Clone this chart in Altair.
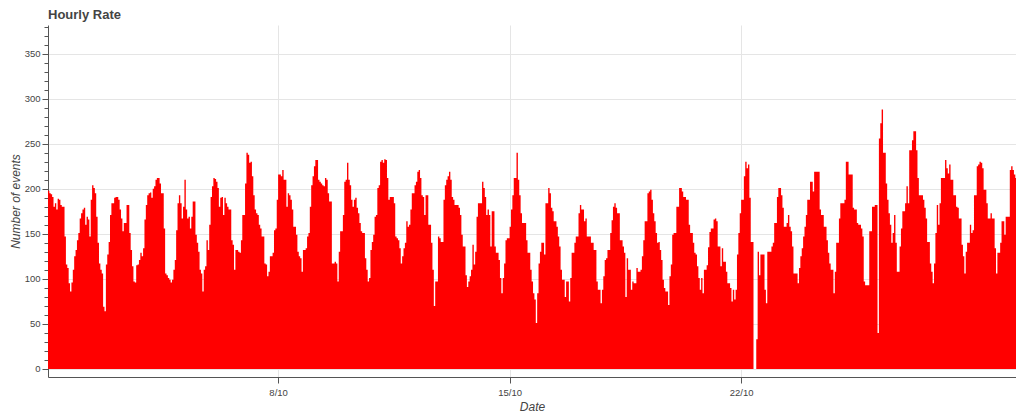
import altair as alt
import pandas as pd
from datetime import datetime, timezone

# Hourly event counts, one list per day (October)
oct01 = [198,195,194,191,180,184,177,189,188,182,180,180,147,116,112,95,86,96,110,125,132,143,151]  # from 01:00
oct02 = [167,173,177,179,160,169,166,147,188,204,201,195,169,140,117,110,106,69,64,116,127,141,171,184]
oct03 = [184,190,191,191,188,177,167,153,162,162,182,182,151,132,114,97,96,115,116,121,129,125,134,166]
oct04 = [182,193,195,196,190,200,203,210,212,212,206,195,195,156,106,104,101,99,96,99,110,121,154,184]
oct05 = [193,184,167,180,210,177,167,169,156,169,186,186,149,140,130,110,106,86,110,114,143,132,160,191]
oct06 = [203,212,211,208,201,180,190,191,171,190,184,180,177,177,143,138,110,132,132,130,129,143,171,171]
oct07 = [206,240,238,229,230,214,193,177,173,171,160,156,147,147,117,116,103,108,125,125,129,154,156,188]
oct08 = [216,216,214,221,210,210,180,195,193,188,177,158,158,149,130,125,123,108,132,132,134,147,151,180]
oct09 = [204,214,225,232,232,210,208,206,204,203,212,210,195,186,186,117,117,119,117,97,130,153,153,171]
oct10 = [208,210,229,210,204,188,180,188,190,179,173,162,153,151,151,123,110,97,101,132,141,149,169,171]
oct11 = [201,204,230,232,229,233,232,212,188,191,191,191,184,147,145,143,134,117,125,134,140,164,158,160]
oct12 = [177,195,195,204,208,219,221,212,193,191,171,193,193,160,160,140,110,70,97,97,147,145,141,141]
oct13 = [188,204,210,214,219,210,191,188,182,182,182,179,171,149,136,136,104,91,97,103,110,138,116,130]
oct14 = [169,184,184,184,208,201,191,171,177,171,136,175,175,136,129,129,121,101,84,101,117,143,145,145]
oct15 = [158,177,193,212,212,240,210,193,173,162,162,162,143,129,129,110,97,84,77,51,84,117,130,140]
oct16 = [140,127,184,184,201,195,179,175,164,164,158,147,136,110,99,99,80,97,97,75,101,129,129,140]
oct17 = [147,147,173,182,177,177,164,167,147,147,147,140,140,132,132,97,88,88,73,88,103,121,123,132]
oct18 = [132,151,165,180,184,179,173,173,143,143,136,129,80,123,110,110,88,97,95,95,112,108,108,110]
oct19 = [125,143,164,164,195,197,199,188,173,164,151,140,141,132,121,99,90,86,86,71,103,116,149,151]
oct20 = [151,180,180,201,201,197,191,191,188,188,160,151,151,140,129,127,114,101,88,101,84,110,110,115]
oct21 = [135,152,156,156,166,167,164,136,136,114,134,119,119,108,95,95,90,75,88,77,88,127,151,173]
oct22 = [188,188,214,230,223,227,190,141,141,0,0,33,130,104,127,127,127,88,73,130,130,130,136,140]
oct23 = [162,162,191,201,201,193,179,158,158,162,171,158,153,136,106,106,106,95,112,125,134,147,158,171]
oct24 = [188,188,208,208,197,219,219,219,219,177,171,171,158,158,143,129,117,110,110,84,108,140,140,167]
oct25 = [184,184,184,188,230,230,216,216,216,179,177,177,162,160,160,156,147,97,93,93,93,153,153,180]
oct26 = [180,182,182,40,256,273,288,240,240,206,188,173,160,140,151,171,140,108,108,136,156,175,175,184]
oct27 = [203,184,243,243,254,264,264,243,212,193,193,193,188,179,167,141,141,117,108,95,117,151,182,160]
oct28 = [184,212,212,212,232,223,217,227,210,210,193,193,180,179,167,167,138,125,106,130,140,140,160,151]
oct29 = [154,193,193,225,227,230,229,223,199,199,184,167,167,173,167,167,134,106,129,129,140,164,164,149]
oct30 = [169,169,169,221,225,221,216,212,210,210,197,180,177,177]

days = [oct01, oct02, oct03, oct04, oct05, oct06, oct07, oct08, oct09, oct10,
        oct11, oct12, oct13, oct14, oct15, oct16, oct17, oct18, oct19, oct20,
        oct21, oct22, oct23, oct24, oct25, oct26, oct27, oct28, oct29, oct30]

date_ticks = ["2017-10-08", "2017-10-15", "2017-10-22"]
x_range_hours = [1.0, 703.5]
y_range = [-9, 382]

H = 3600 * 1000
base = int(datetime(2017, 10, 1, tzinfo=timezone.utc).timestamp() * 1000)
values = [v for d in days for v in d]
# each hourly bin is drawn as a step from its start to the next bin's start
starts = [base + (1 + i) * H for i in range(len(values))]
df = pd.DataFrame({"start": starts + [starts[-1] + H], "count": values + [values[-1]]})

tick_ms = [int(datetime.fromisoformat(t).replace(tzinfo=timezone.utc).timestamp() * 1000) for t in date_ticks]
x_domain = [base + x_range_hours[0] * H, base + x_range_hours[1] * H]

major = "datum.value % 50 === 0"

chart = alt.Chart(df).mark_area(color="#ff0000", interpolate="step-after", clip=True, opacity=1).encode(
    x=alt.X("start:T",
            scale=alt.Scale(type="utc", domain=x_domain, nice=False),
            axis=alt.Axis(values=tick_ms, format="%-d/%m", tickSize=6, labelPadding=4,
                          title="Date", titlePadding=5, labelFlush=False)),
    y=alt.Y("count:Q",
            scale=alt.Scale(domain=y_range, nice=False, zero=False),
            axis=alt.Axis(values=list(range(0, 390, 10)),
                          labelExpr="datum.value % 50 === 0 ? datum.label : ''",
                          tickSize={"condition": {"test": major, "value": 6}, "value": 4},
                          gridOpacity={"condition": {"test": major, "value": 1}, "value": 0},
                          labelPadding=2, title="Number of events",
                          titleX=-33, titleY=176, titleAngle=-90,
                          titleAlign="center", titleBaseline="middle")),
    y2=alt.datum(0),
).properties(
    width=968,
    height=352,
    autosize=alt.AutoSizeParams(type="none"),
    padding={"left": 40, "top": 17, "right": 0, "bottom": 36},
    title=alt.Title("Hourly Rate", anchor="start", frame="group", fontSize=13,
                    fontWeight="bold", color="#444444", font="Liberation Sans",
                    offset=6, baseline="alphabetic", dy=13),
).configure_view(stroke=None).configure_axis(
    domainColor="#555555", tickColor="#555555", labelColor="#444444",
    titleColor="#444444", labelFont="Liberation Sans", titleFont="Liberation Sans",
    gridColor="#e5e5e5", labelFontSize=9.5, titleFontSize=12,
    titleFontStyle="italic", titleFontWeight="normal",
)

chart.save("out.html", embed_options={"renderer": "svg", "actions": False})
